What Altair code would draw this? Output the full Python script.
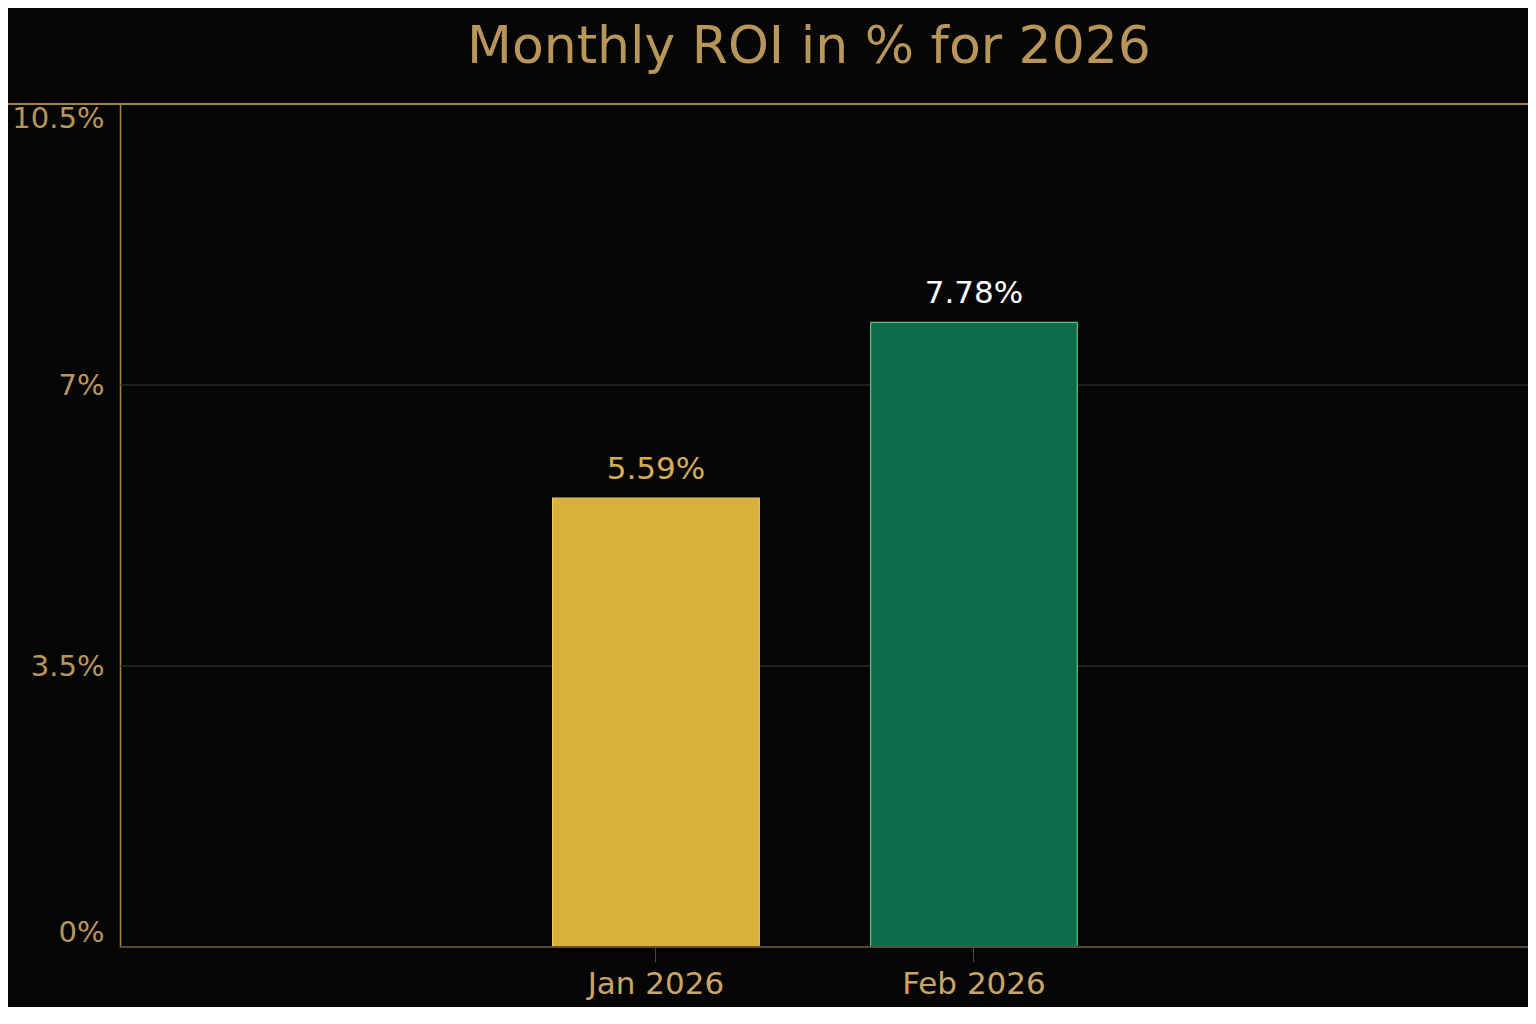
import altair as alt
import pandas as pd

months = ["Jan 2026", "Feb 2026"]
roi = [5.59, 7.78]
y_ticks = [0, 3.5, 7, 10.5]

df = pd.DataFrame({"month": months, "roi": roi})
grid_df = pd.DataFrame({"tick": y_ticks[1:]})

FONT = "DejaVu Sans"
GOLD = "#b8965a"
LEFT = 112
W, H = 1528 - 8 - LEFT, 843

x_scale = alt.Scale(paddingInner=0.35, paddingOuter=0, range=[432.6, 957.3])
y_scale = alt.Scale(domain=[0, 10.5], nice=False, zero=True)

x_enc = alt.X(
    "month:N",
    sort=months,
    scale=x_scale,
    axis=alt.Axis(
        title=None,
        labelAngle=0,
        labelFont=FONT,
        labelFontSize=31,
        labelColor="#c9a665",
        labelPadding=7,
        tickColor="#4a4538",
        tickSize=15,
        domain=False,
        grid=False,
    ),
)
y_enc = alt.Y(
    "roi:Q",
    scale=y_scale,
    axis=alt.Axis(
        title=None,
        values=y_ticks,
        labelExpr="datum.value + '%'",
        labelFont=FONT,
        labelFontSize=29,
        labelColor=GOLD,
        labelPadding=16,
        labelFlush=True,
        labelFlushOffset=0,
        ticks=False,
        domainColor="#a8844c",
        domainWidth=1.5,
        grid=False,
    ),
)

base = alt.Chart(df)

grid = alt.Chart(grid_df).mark_rule(color="#3f3a2c", strokeWidth=1).encode(
    y=alt.Y("tick:Q", scale=y_scale),
    x=alt.value(0),
    x2=alt.value(W + 20),
)

bars = base.mark_bar(strokeWidth=1.2).encode(
    x=x_enc,
    y=y_enc,
    color=alt.Color("month:N", scale=alt.Scale(domain=months, range=["#d9b03b", "#0e6c4a"]), legend=None),
    stroke=alt.Stroke("month:N", scale=alt.Scale(domain=months, range=["#efc95a", "#5cbf8c"]), legend=None),
)

labels = base.transform_calculate(
    label="format(datum.roi, '.2f') + '%'"
).mark_text(font=FONT, fontSize=31, baseline="alphabetic", dy=-19).encode(
    x=alt.X("month:N", sort=months),
    y=alt.Y("roi:Q"),
    text="label:N",
    color=alt.Color("month:N", scale=alt.Scale(domain=months, range=["#d8ad52", "#ffffff"]), legend=None),
)

top_line = base.mark_rule(color="#b08a4a", strokeWidth=1.5).encode(
    x=alt.value(-LEFT - 10), x2=alt.value(W + 20), y=alt.value(0)
)

bottom_line = base.mark_rule(color="#5e4e33", strokeWidth=1.5).encode(
    x=alt.value(0), x2=alt.value(W + 20), y=alt.value(H)
)

chart = (
    alt.layer(grid, bars, labels, bottom_line, top_line)
    .resolve_scale(color="independent")
    .properties(
        width=W,
        height=H,
        background="#050505",
        padding={"left": LEFT, "top": 96, "right": 0, "bottom": 60},
        autosize=alt.AutoSizeParams(type="none"),
        title=alt.TitleParams(
            "Monthly ROI in % for 2026",
            font=FONT,
            fontSize=52,
            fontWeight="normal",
            color=GOLD,
            anchor="middle",
            offset=29,
            dx=-15,
        ),
    )
    .configure_view(stroke=None)
)

chart.save("out.html", embed_options={"renderer": "svg", "actions": False})
